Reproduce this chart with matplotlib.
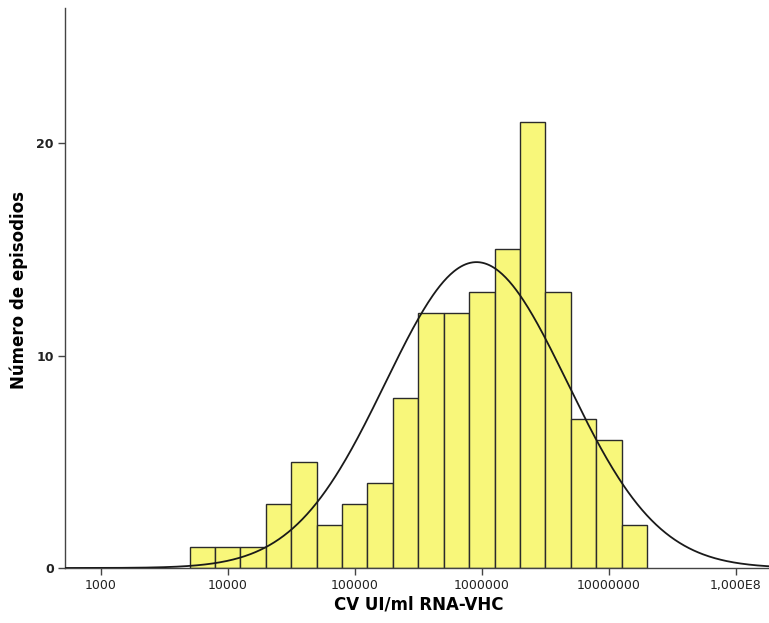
import matplotlib
matplotlib.use("Agg")
import matplotlib.pyplot as plt
import numpy as np

# log10 bin edges of the histogram (width 0.2 decades)
bin_start = 3.7
bin_width = 0.2
counts = [1, 1, 1, 3, 5, 2, 3, 4, 8, 12, 12, 13, 15, 21, 13, 7, 6, 2]

# normal curve fitted on log10 values
curve_mean = 5.958
curve_sd = 0.715

xtick_vals = [1e3, 1e4, 1e5, 1e6, 1e7, 1e8]
xtick_labels = ["1000", "10000", "100000", "1000000", "10000000", "1,000E8"]
ytick_vals = [0, 10, 20]

fig = plt.figure(figsize=(7.69, 6.23), dpi=100)
ax = fig.add_axes([0.0845, 0.0883, 0.9155, 0.8987])

edges = bin_start + bin_width * np.arange(len(counts) + 1)
lefts = 10 ** edges[:-1]
widths = 10 ** edges[1:] - lefts
ax.bar(lefts, counts, width=widths, align="edge", color="#f8f77a",
       edgecolor="#2b2b2b", linewidth=1.0, zorder=2)

n = sum(counts)
xs = np.linspace(2.72, 8.26, 600)
ys = n * bin_width / (curve_sd * np.sqrt(2 * np.pi)) * np.exp(-0.5 * ((xs - curve_mean) / curve_sd) ** 2)
ax.plot(10 ** xs, ys, color="#1a1a1a", linewidth=1.3, zorder=3)

ax.set_xscale("log")
ax.set_xlim(10 ** 2.72, 10 ** 8.26)
ax.set_ylim(0, 26.35)
ax.set_xticks(xtick_vals)
ax.set_xticklabels(xtick_labels, fontsize=9, color="#222222")
ax.minorticks_off()
ax.set_yticks(ytick_vals)
ax.set_yticklabels([str(v) for v in ytick_vals], fontsize=9, fontweight="bold", color="#222222")
ax.tick_params(axis="x", direction="out", length=5, width=1, color="#444444", pad=3)
ax.tick_params(axis="y", direction="out", length=5, width=1, color="#444444", pad=3)

for side in ["top", "right"]:
    ax.spines[side].set_visible(False)
for side in ["left", "bottom"]:
    ax.spines[side].set_color("#444444")
    ax.spines[side].set_linewidth(1.0)

ax.set_xlabel("CV UI/ml RNA-VHC", fontsize=12, fontweight="bold", va="center")
ax.xaxis.set_label_coords(0.503, -0.066)
ax.set_ylabel("Número de episodios", fontsize=12, fontweight="bold", va="center")
ax.yaxis.set_label_coords(-0.066, 0.497)

fig.savefig("out.png", dpi=100)
